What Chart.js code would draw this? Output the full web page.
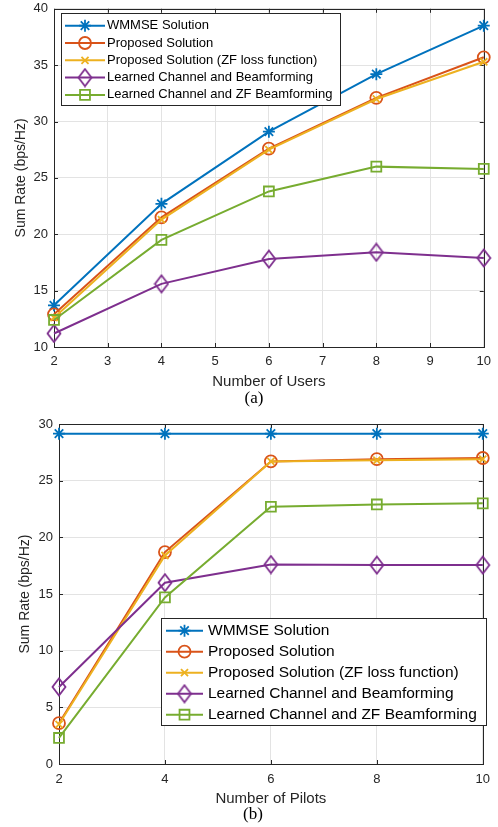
<!DOCTYPE html>
<html>
<head>
<meta charset="utf-8">
<script src="https://cdn.jsdelivr.net/npm/chart.js@4/dist/chart.umd.min.js"></script>
<style>
html, body { margin: 0; padding: 0; background: #fff; }
body { width: 498px; height: 827px; position: relative; overflow: hidden; }
.panel { position: absolute; left: 0; width: 498px; }
#panelA { top: 0; height: 392px; }
#panelB { top: 400px; height: 410px; }
.caption {
    position: absolute;
    font-family: 'Liberation Serif', 'Times New Roman', serif;
    font-size: 17px;
    color: #000;
    transform: translate(-50%, -50%);
    white-space: nowrap;
}
</style>
</head>
<body>
<div class="panel" id="panelA"><canvas id="chartA" width="498" height="392"></canvas></div>
<div class="panel" id="panelB"><canvas id="chartB" width="498" height="410"></canvas></div>
<div class="caption" style="left:254px; top:398px;">(a)</div>
<div class="caption" style="left:253px; top:814px;">(b)</div>

<script>
// Data
const seriesNames = [
    'WMMSE Solution',
    'Proposed Solution',
    'Proposed Solution (ZF loss function)',
    'Learned Channel and Beamforming',
    'Learned Channel and ZF Beamforming'
];
const usersX = [2, 4, 6, 8, 10];
const usersWmmse    = [13.7, 22.7, 29.1, 34.2, 38.5];
const usersProposed = [12.9, 21.5, 27.6, 32.1, 35.7];
const usersZfLoss   = [12.6, 21.3, 27.5, 32.0, 35.3];
const usersLearnedBf = [11.2, 15.6, 17.8, 18.4, 17.9];
const usersLearnedZf = [12.4, 19.5, 23.8, 26.0, 25.8];

const pilotsX = [2, 4, 6, 8, 10];
const pilotsWmmse    = [29.15, 29.15, 29.15, 29.15, 29.15];
const pilotsProposed = [3.6, 18.7, 26.7, 26.9, 27.0];
const pilotsZfLoss   = [3.5, 18.4, 26.7, 26.8, 26.9];
const pilotsLearnedBf = [6.8, 16.0, 17.6, 17.55, 17.55];
const pilotsLearnedZf = [2.3, 14.7, 22.7, 22.9, 23.0];

const xTicksUsers = [2, 3, 4, 5, 6, 7, 8, 9, 10];
const xTicksPilots = [2, 4, 6, 8, 10];

// MATLAB default line colours and markers
const colors = ['#0072BD', '#D95319', '#EDB120', '#7E2F8E', '#77AC30'];
const markerSizes = [6, 6, 5, 7, 7];

const textColor = '#262626';
const fontFamily = "'Liberation Sans', Arial, Helvetica, sans-serif";

// MATLAB's diamond is a bit taller than wide
function diamondMarker(color) {
    const c = document.createElement('canvas');
    c.width = 16; c.height = 20;
    const g = c.getContext('2d');
    g.strokeStyle = color;
    g.lineWidth = 1.8;
    g.beginPath();
    g.moveTo(8, 1.5); g.lineTo(14.5, 10); g.lineTo(8, 18.5); g.lineTo(1.5, 10);
    g.closePath();
    g.stroke();
    return c;
}
const markers = ['star', 'circle', 'crossRot', diamondMarker(colors[3]), 'rect'];

function buildDatasets(xs, seriesList) {
    return seriesList.map((vals, i) => ({
        label: seriesNames[i],
        data: xs.map((x, j) => ({ x: x, y: vals[j] })),
        borderColor: colors[i],
        backgroundColor: 'rgba(0,0,0,0)',
        borderWidth: 2,
        pointStyle: markers[i],
        pointRadius: markerSizes[i],
        pointBorderWidth: 1.8,
        pointBorderColor: colors[i],
        pointBackgroundColor: 'rgba(0,0,0,0)',
        tension: 0,
        clip: false,
        order: seriesList.length - 1 - i
    }));
}

// axes box with inward tick marks
const framePlugin = {
    id: 'frame',
    beforeDatasetsDraw(chart) {
        const ctx = chart.ctx;
        const a = chart.chartArea;
        const xs = chart.scales.x, ys = chart.scales.y;
        ctx.save();
        ctx.strokeStyle = '#262626';
        ctx.lineWidth = 1;
        ctx.strokeRect(Math.round(a.left) + 0.5, Math.round(a.top) + 0.5,
            Math.round(a.right - a.left), Math.round(a.bottom - a.top));
        ctx.beginPath();
        xs.ticks.forEach(t => {
            const px = Math.round(xs.getPixelForValue(t.value)) + 0.5;
            ctx.moveTo(px, a.bottom); ctx.lineTo(px, a.bottom - 4);
            ctx.moveTo(px, a.top); ctx.lineTo(px, a.top + 4);
        });
        ys.ticks.forEach(t => {
            const py = Math.round(ys.getPixelForValue(t.value)) + 0.5;
            ctx.moveTo(a.left, py); ctx.lineTo(a.left + 4, py);
            ctx.moveTo(a.right, py); ctx.lineTo(a.right - 4, py);
        });
        ctx.stroke();
        ctx.restore();
    }
};

// boxed legend inside the axes
const boxLegendPlugin = {
    id: 'boxLegend',
    afterDatasetsDraw(chart, args, opts) {
        const ctx = chart.ctx;
        ctx.save();
        ctx.fillStyle = '#fff';
        ctx.fillRect(opts.x, opts.y, opts.w, opts.h);
        ctx.strokeStyle = '#262626';
        ctx.lineWidth = 1;
        ctx.strokeRect(opts.x + 0.5, opts.y + 0.5, opts.w, opts.h);
        chart.data.datasets.forEach((ds, i) => {
            const y = opts.row0 + i * opts.gap;
            ctx.strokeStyle = ds.borderColor;
            ctx.lineWidth = ds.borderWidth;
            ctx.beginPath();
            ctx.moveTo(opts.lineX0, y);
            ctx.lineTo(opts.lineX1, y);
            ctx.stroke();
            ctx.lineWidth = ds.pointBorderWidth;
            ctx.fillStyle = 'rgba(0,0,0,0)';
            Chart.helpers.drawPoint(ctx, {
                pointStyle: ds.pointStyle,
                radius: ds.pointRadius,
                rotation: 0,
                borderWidth: ds.pointBorderWidth
            }, (opts.lineX0 + opts.lineX1) / 2, y);
            ctx.fillStyle = '#000';
            ctx.font = opts.fontSize + 'px ' + fontFamily;
            ctx.textBaseline = 'middle';
            ctx.textAlign = 'left';
            ctx.fillText(ds.label, opts.textX, y);
        });
        ctx.restore();
    }
};

function makeChart(id, cfg) {
    const ctx = document.getElementById(id).getContext('2d');
    return new Chart(ctx, {
        type: 'line',
        data: { datasets: buildDatasets(cfg.xs, cfg.series) },
        options: {
            responsive: false,
            animation: false,
            devicePixelRatio: 1,
            layout: { padding: cfg.padding },
            scales: {
                x: {
                    type: 'linear',
                    min: 2, max: 10,
                    afterBuildTicks: (scale) => { scale.ticks = cfg.xTicks.map(v => ({ value: v })); },
                    afterFit: (scale) => { scale.height = cfg.xHeight; },
                    grid: { color: '#e3e3e3', drawTicks: false },
                    border: { display: false },
                    ticks: {
                        padding: cfg.xTickPad,
                        color: textColor,
                        font: { family: fontFamily, size: 13 },
                        maxRotation: 0
                    },
                    title: {
                        display: true,
                        text: cfg.xTitle,
                        color: textColor,
                        font: { family: fontFamily, size: 15 },
                        padding: { top: 0, bottom: cfg.xTitlePad }
                    }
                },
                y: {
                    min: cfg.yMin, max: cfg.yMax,
                    ticks: {
                        stepSize: 5,
                        padding: 6,
                        color: textColor,
                        font: { family: fontFamily, size: 13, lineHeight: 1 }
                    },
                    afterFit: (scale) => {
                        scale.width = cfg.yWidth;
                        scale.paddingTop = 0;
                        scale.paddingBottom = 0;
                    },
                    grid: { color: '#e3e3e3', drawTicks: false },
                    border: { display: false },
                    title: {
                        display: true,
                        text: 'Sum Rate (bps/Hz)',
                        color: textColor,
                        font: { family: fontFamily, size: 14 },
                        padding: { top: cfg.yTitlePad, bottom: 0 }
                    }
                }
            },
            plugins: {
                legend: { display: false },
                tooltip: { enabled: false },
                boxLegend: cfg.legend
            }
        },
        plugins: [framePlugin, boxLegendPlugin]
    });
}

makeChart('chartA', {
    xs: usersX,
    series: [usersWmmse, usersProposed, usersZfLoss, usersLearnedBf, usersLearnedZf],
    xTicks: xTicksUsers,
    yMin: 10, yMax: 40,
    xTitle: 'Number of Users',
    padding: { top: 7, right: 13, left: 0, bottom: 0 },
    xHeight: 45, yWidth: 54,
    xTickPad: 7, xTitlePad: 1, yTitlePad: 12.6,
    legend: { x: 61, y: 13, w: 279, h: 92, row0: 25.7, gap: 17.3,
              lineX0: 65, lineX1: 105, textX: 107, fontSize: 13 }
});

makeChart('chartB', {
    xs: pilotsX,
    series: [pilotsWmmse, pilotsProposed, pilotsZfLoss, pilotsLearnedBf, pilotsLearnedZf],
    xTicks: xTicksPilots,
    yMin: 0, yMax: 30,
    xTitle: 'Number of Pilots',
    padding: { top: 24, right: 9, left: 0, bottom: 0 },
    xHeight: 46, yWidth: 59,
    xTickPad: 8, xTitlePad: 2, yTitlePad: 16.6,
    legend: { x: 161, y: 218, w: 325, h: 107, row0: 230.7, gap: 21,
              lineX0: 166, lineX1: 203, textX: 208, fontSize: 15.5 }
});
</script>
</body>
</html>
